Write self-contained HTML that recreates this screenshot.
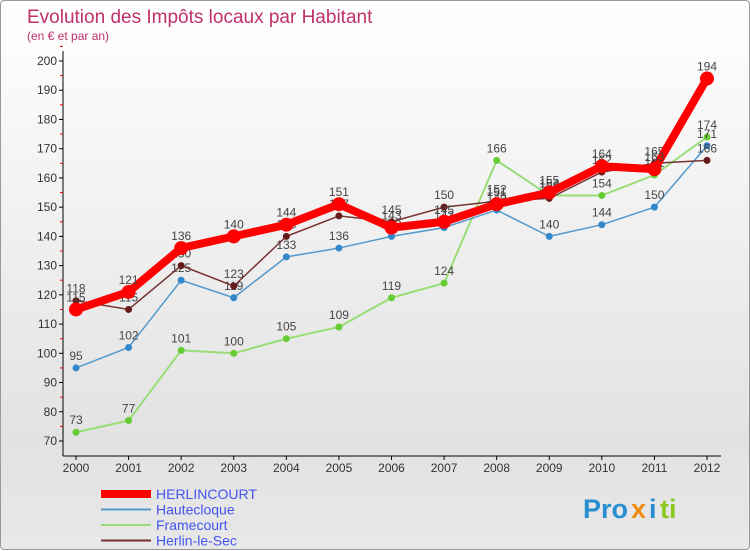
<!DOCTYPE html>
<html><head><meta charset="utf-8"><style>
body{margin:0;width:750px;height:550px;overflow:hidden;font-family:"Liberation Sans",sans-serif;}
#wrap{position:absolute;left:0;top:0;width:748px;height:548px;border:1px solid #999;border-radius:4px;background:linear-gradient(#fff,#e2e2e2 80%,#e8e8e8);}
</style></head><body>
<div id="wrap">
<svg id="chart" width="750" height="550" style="position:absolute;left:0;top:0">
<text x="26" y="22" font-size="19" fill="#c0306a">Evolution des Impôts locaux par Habitant</text>
<text x="26" y="39" font-size="12" fill="#c0306a">(en € et par an)</text>
<g id="axes"></g><g id="series"></g><g id="legend"></g>
<g font-size="27" font-weight="bold">
<text x="582" y="517" fill="#2a8fd0">Pro</text><text x="630" y="517" fill="#f08a10">x</text><text x="648" y="517" fill="#2a8fd0">i</text><text x="659" y="517" fill="#8cc820">ti</text>
</g>
</svg></div>
<script>
const years=[2000,2001,2002,2003,2004,2005,2006,2007,2008,2009,2010,2011,2012];
const yTicks=[70,80,90,100,110,120,130,140,150,160,170,180,190,200];
const herlincourt=[115,121,136,140,144,151,143,145,151,155,164,163,194];
const hautecloque=[95,102,125,119,133,136,140,143,149,140,144,150,171];
const framecourt=[73,77,101,100,105,109,119,124,166,154,154,161,174];
const herlinLeSec=[118,115,130,123,140,147,145,150,152,153,162,165,166];
const seriesNames=["HERLINCOURT","Hautecloque","Framecourt","Herlin-le-Sec"];
const NS="http://www.w3.org/2000/svg";
const X=i=>75+i*(706-75)/(years.length-1);
const Y=v=>440-(v-70)*(380/130);
function mk(t,a,p){const e=document.createElementNS(NS,t);for(const k in a)e.setAttribute(k,a[k]);p.appendChild(e);return e;}
const ax=document.getElementById('axes');
let l=mk('line',{x1:62,y1:50,x2:62,y2:455,stroke:'#000'},ax);

l=mk('line',{x1:62,y1:455,x2:720,y2:455,stroke:'#000'},ax);

yTicks.forEach(v=>{
  mk('line',{x1:58,y1:Y(v),x2:62,y2:Y(v),stroke:'#000'},ax);
  mk('line',{x1:59,y1:Y(v+5),x2:62,y2:Y(v+5),stroke:'#e00'},ax);
  const t=mk('text',{x:56,y:Y(v)+4,'font-size':12,'text-anchor':'end',fill:'#333'},ax);t.textContent=v;
  
});
years.forEach((y,i)=>{
  mk('line',{x1:X(i),y1:455,x2:X(i),y2:459,stroke:'#000'},ax);
  const t=mk('text',{x:X(i),y:471,'font-size':12,'text-anchor':'middle',fill:'#333'},ax);t.textContent=y;
  
});
const sg=document.getElementById('series');
const defs=[[framecourt,'#99dd77','#66cc33',2,3.5],[hautecloque,'#5599cc','#3388cc',1.5,3.5],[herlinLeSec,'#773333','#661a1a',1.5,3.5],[herlincourt,'#ff0000','#ff0000',8,7]];
const nm=[seriesNames[2],seriesNames[1],seriesNames[3],seriesNames[0]];
defs.forEach((d,k)=>{
  const g=mk('g',{},sg);
  
  const p=mk('polyline',{points:d[0].map((v,i)=>X(i)+','+Y(v)).join(' '),fill:'none',stroke:d[1],'stroke-width':d[3],'stroke-linejoin':'round'},g);
  d[0].forEach((v,i)=>{
    const c=mk('circle',{cx:X(i),cy:Y(v),r:d[4],fill:d[2]},g);
    
    const t=mk('text',{x:X(i),y:Y(v)-8,'font-size':12,'text-anchor':'middle',fill:'#444'},g);t.textContent=v;
    
  });
});
const lg=document.getElementById('legend');
const lsty=[['#ff0000',8],['#5599cc',2],['#99dd77',2],['#773333',2]];
seriesNames.forEach((n,i)=>{
  const y=493+i*15.5;
  const g=mk('g',{},lg);
  
  mk('line',{x1:100,y1:y,x2:150,y2:y,stroke:lsty[i][0],'stroke-width':lsty[i][1]},g);
  const t=mk('text',{x:155,y:y+5,'font-size':14,fill:'#4455ee'},g);t.textContent=n;
});
</script>
</body></html>
